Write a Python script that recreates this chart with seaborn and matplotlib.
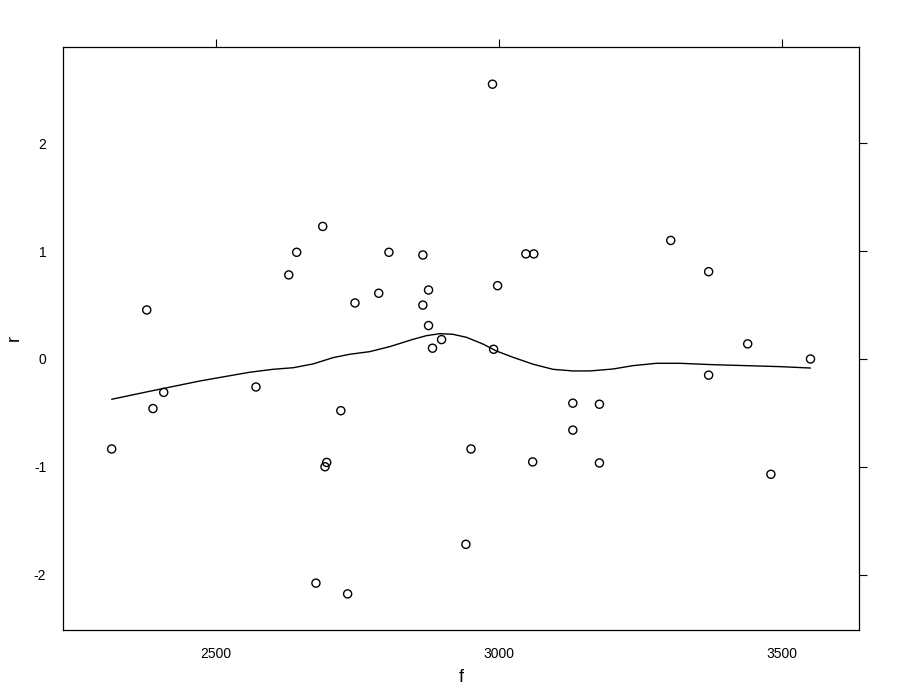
import matplotlib
matplotlib.use('Agg')
import matplotlib.pyplot as plt
import seaborn as sns
import pandas as pd

# ============================================
# DATA
# ============================================
f_vals = [2316, 2378, 2389, 2408, 2571, 2629, 2643, 2689, 2693, 2696,
          2677, 2721, 2733, 2746, 2788, 2806, 2866, 2866, 2876, 2876,
          2883, 2899, 2942, 2951, 2989, 2991, 2998, 3048, 3062, 3060,
          3131, 3131, 3178, 3178, 3304, 3371, 3371, 3440, 3481, 3551]
r_vals = [-0.835, 0.455, -0.46, -0.31, -0.26, 0.78, 0.99, 1.23, -1.0, -0.96,
          -2.08, -0.48, -2.18, 0.52, 0.61, 0.99, 0.965, 0.50, 0.64, 0.31,
          0.10, 0.18, -1.72, -0.835, 2.55, 0.09, 0.68, 0.975, 0.975, -0.955,
          -0.41, -0.66, -0.42, -0.965, 1.10, 0.81, -0.15, 0.14, -1.07, 0.0]

# smooth curve (loess) as drawn in the reference
smooth_f = [2316, 2383, 2472, 2560, 2601, 2637, 2672, 2707, 2737, 2772,
            2807, 2849, 2872, 2896, 2919, 2943, 2972, 2996, 3025, 3061,
            3096, 3131, 3161, 3202, 3237, 3279, 3320, 3379, 3438, 3497, 3551]
smooth_r = [-0.374, -0.300, -0.204, -0.123, -0.096, -0.081, -0.046, 0.012, 0.044, 0.068,
            0.114, 0.183, 0.216, 0.235, 0.229, 0.201, 0.139, 0.074, 0.016, -0.049,
            -0.096, -0.111, -0.111, -0.093, -0.062, -0.040, -0.040, -0.053, -0.062, -0.071, -0.084]

x_ticks = [2500, 3000, 3500]
y_ticks = [-2, -1, 0, 1, 2]

df = pd.DataFrame({'f': f_vals, 'r': r_vals})
smooth = pd.DataFrame({'f': smooth_f, 'r': smooth_r})

# ============================================
# STYLE
# ============================================
sns.set_style('white')
plt.rcParams['font.family'] = ['Liberation Sans Narrow', 'Liberation Sans', 'DejaVu Sans']
plt.rcParams['axes.unicode_minus'] = False

fig = plt.figure(figsize=(9, 7), dpi=100)
ax = fig.add_axes([0.07, 0.1, 0.884, 0.833])

sns.scatterplot(data=df, x='f', y='r', ax=ax, marker='o', s=34,
                facecolor='none', edgecolor='black', linewidth=1.0)
sns.lineplot(data=smooth, x='f', y='r', ax=ax, color='black', linewidth=1.0,
             sort=True, estimator=None)

ax.set_xlim(2230, 3636)
ax.set_ylim(-2.515, 2.896)
ax.set_xticks(x_ticks)
ax.set_yticks(y_ticks)
ax.tick_params(axis='both', which='both', direction='out', length=6, width=0.8,
               color='black', labelcolor='black', labelsize=10, top=True, right=True,
               labeltop=False, labelright=False, pad=6)
for s in ax.spines.values():
    s.set_color('black')
    s.set_linewidth(0.9)

ax.set_xlabel('f', fontsize=13, labelpad=6, color='black')
ax.set_ylabel('r', fontsize=13, labelpad=8, color='black')

plt.savefig('out.png', dpi=100)
plt.close()
